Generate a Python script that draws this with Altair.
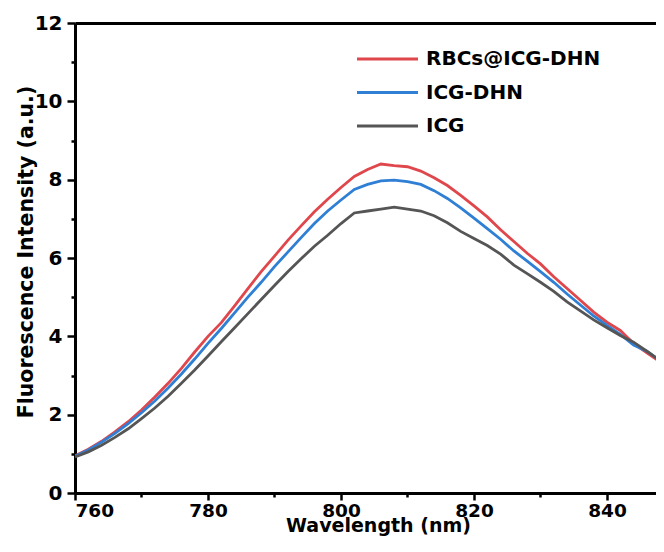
import altair as alt
import pandas as pd

wavelength = [760, 762, 764, 766, 768, 770, 772, 774, 776, 778, 780, 782, 784, 786, 788, 790,
              792, 794, 796, 798, 800, 802, 804, 806, 808, 810, 812, 814, 816, 818, 820, 822,
              824, 826, 828, 830, 832, 834, 836, 838, 840, 842, 844, 846, 848, 850]

rbcs_icg_dhn = [0.95, 1.12, 1.32, 1.56, 1.82, 2.12, 2.45, 2.80, 3.18, 3.60, 4.00, 4.35, 4.78,
                5.22, 5.65, 6.05, 6.45, 6.82, 7.18, 7.50, 7.80, 8.08, 8.26, 8.40, 8.36, 8.33,
                8.22, 8.05, 7.85, 7.60, 7.33, 7.05, 6.72, 6.42, 6.12, 5.85, 5.52, 5.22, 4.92,
                4.62, 4.36, 4.15, 3.82, 3.58, 3.35, 3.10]

icg_dhn = [0.94, 1.10, 1.30, 1.52, 1.77, 2.05, 2.35, 2.68, 3.04, 3.42, 3.82, 4.20, 4.60, 5.00,
           5.38, 5.78, 6.15, 6.52, 6.88, 7.20, 7.48, 7.75, 7.88, 7.97, 7.99, 7.95, 7.88, 7.72,
           7.52, 7.28, 7.02, 6.75, 6.48, 6.18, 5.92, 5.65, 5.38, 5.08, 4.80, 4.52, 4.28, 4.05,
           3.78, 3.62, 3.38, 3.12]

icg = [0.92, 1.05, 1.22, 1.42, 1.64, 1.90, 2.17, 2.47, 2.80, 3.14, 3.50, 3.86, 4.22, 4.58,
       4.94, 5.30, 5.65, 5.98, 6.30, 6.58, 6.88, 7.15, 7.20, 7.25, 7.30, 7.25, 7.20, 7.08,
       6.90, 6.68, 6.50, 6.32, 6.10, 5.82, 5.60, 5.38, 5.15, 4.88, 4.65, 4.42, 4.22, 4.02,
       3.85, 3.62, 3.38, 3.15]

series_names = ["RBCs@ICG-DHN", "ICG-DHN", "ICG"]
series_colors = ["#e0474c", "#2f7fd4", "#555555"]

x_major = [760, 780, 800, 820, 840]
x_minor = [770, 790, 810, 830]
y_major = [0, 2, 4, 6, 8, 10, 12]
y_minor = [1, 3, 5, 7, 9, 11]

rows = []
for name, vals in zip(series_names, [rbcs_icg_dhn, icg_dhn, icg]):
    for w, v in zip(wavelength, vals):
        rows.append({"wavelength": w, "intensity": v, "series": name})
df = pd.DataFrame(rows)

FONT = "DejaVu Sans"
xscale = alt.Scale(domain=[760, 847.37], nice=False, zero=False)
yscale = alt.Scale(domain=[0, 12], nice=False)
cscale = alt.Scale(domain=series_names, range=series_colors)

common_axis = dict(grid=False, domainColor="black", tickColor="black", domainWidth=3,
                   tickWidth=2.5, labelFont=FONT, labelFontWeight="bold", labelColor="black",
                   titleFont=FONT, titleFontWeight="bold", titleColor="black")

lines = alt.Chart(df).mark_line(strokeWidth=2.8, clip=True).encode(
    x=alt.X("wavelength:Q", scale=xscale,
            axis=alt.Axis(orient="bottom", values=x_major, tickSize=7, labelPadding=16,
                          labelBaseline="alphabetic", labelFontSize=18.5, format="d",
                          title="Wavelength (nm)", titleFontSize=19, titleX=303, titleY=38,
                          titleAlign="center", titleBaseline="alphabetic", **common_axis)),
    y=alt.Y("intensity:Q", scale=yscale,
            axis=alt.Axis(orient="left", values=y_major, tickSize=8, labelPadding=5,
                          labelFontSize=20, labelBaseline="middle",
                          title="Fluorescence Intensity (a.u.)", titleFontSize=20.5,
                          titleX=-39, titleY=228.5, titleAngle=270, titleAlign="center",
                          titleBaseline="bottom", **common_axis)),
    color=alt.Color("series:N", scale=cscale, legend=None),
    detail="series:N",
)

minor = alt.Chart(df).mark_line(opacity=0, clip=True).encode(
    x=alt.X("wavelength:Q", scale=xscale,
            axis=alt.Axis(orient="bottom", values=x_minor, tickSize=4, labels=False,
                          domain=False, title=None, grid=False, tickColor="black",
                          tickWidth=2.5)),
    y=alt.Y("intensity:Q", scale=yscale,
            axis=alt.Axis(orient="left", values=y_minor, tickSize=4, labels=False,
                          domain=False, title=None, grid=False, tickColor="black",
                          tickWidth=2.5)),
    detail="series:N",
)

top = alt.Chart(df).mark_line(opacity=0, clip=True).encode(
    x=alt.X("wavelength:Q", scale=xscale,
            axis=alt.Axis(orient="top", labels=False, ticks=False, domain=True,
                          domainColor="black", domainWidth=3, title=None, grid=False)),
    y=alt.Y("intensity:Q", scale=yscale, axis=None),
    detail="series:N",
)

legend_layers = []
for i, (name, col) in enumerate(zip(series_names, series_colors)):
    ldf = pd.DataFrame({"series": [name]})
    ypix = 36 + i * 33.5
    legend_layers.append(
        alt.Chart(ldf).mark_rule(strokeWidth=3, color=col).encode(
            x=alt.value(282), x2=alt.value(343), y=alt.value(ypix))
    )
    legend_layers.append(
        alt.Chart(ldf).mark_text(align="left", baseline="middle", font=FONT,
                                 fontWeight="bold", fontSize=20, color="black").encode(
            x=alt.value(351), y=alt.value(ypix), text="series:N")
    )

chart = alt.layer(lines, minor, top, *legend_layers).resolve_axis(
    x="independent", y="independent"
).properties(
    width=581, height=470,
    autosize=alt.AutoSizeParams(type="none"),
    padding={"left": 67, "top": 15, "right": 0, "bottom": 43},
).configure_view(stroke=None).configure(background="white")

chart.save("out.html", embed_options={"renderer": "svg", "actions": False})
